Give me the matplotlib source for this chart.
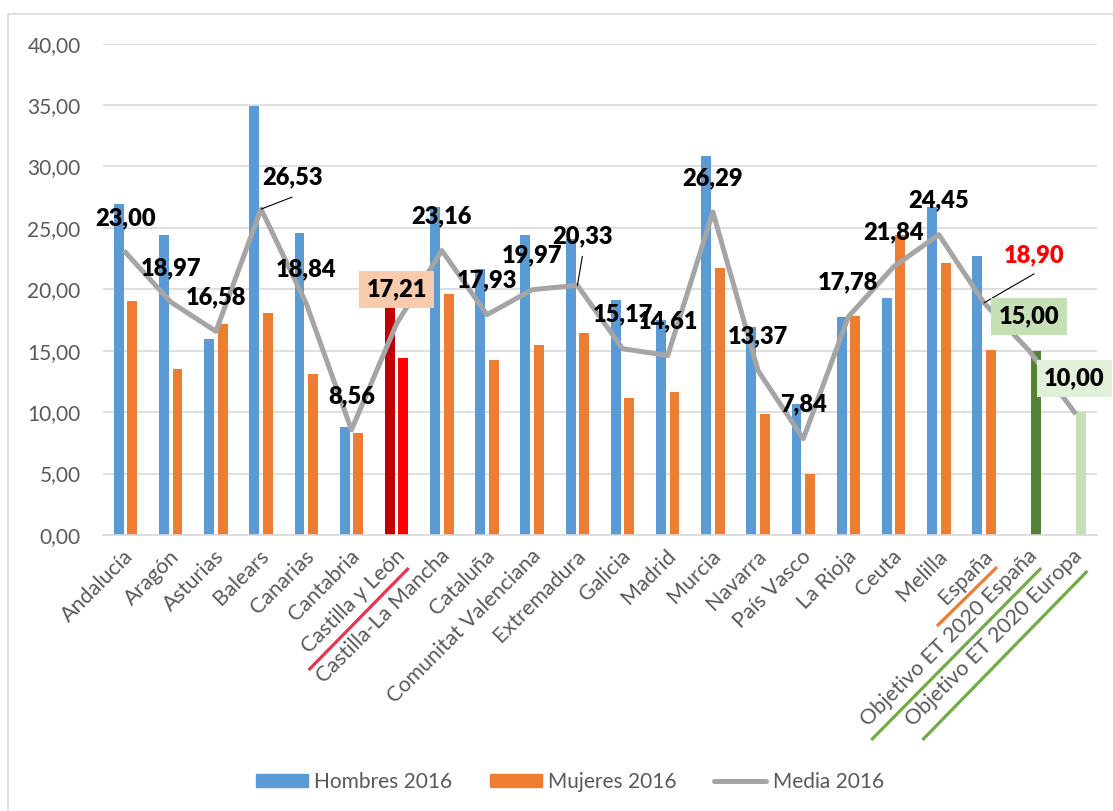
"""Abandono temprano de la educación 2016 por comunidad autónoma."""

import numpy as np
import matplotlib
matplotlib.use("Agg")
import matplotlib.pyplot as plt
from matplotlib.patches import Rectangle, Patch
from matplotlib.lines import Line2D
from matplotlib.transforms import ScaledTranslation

plt.rcParams["font.family"] = ["Lato", "DejaVu Sans"]

categorias = ["Andalucía", "Aragón", "Asturias", "Balears", "Canarias", "Cantabria",
              "Castilla y León", "Castilla-La Mancha", "Cataluña", "Comunitat Valenciana",
              "Extremadura", "Galicia", "Madrid", "Murcia", "Navarra", "País Vasco",
              "La Rioja", "Ceuta", "Melilla", "España", "Objetivo ET 2020 España",
              "Objetivo ET 2020 Europa"]
hombres = [26.94, 24.42, 15.95, 34.94, 24.55, 8.82, 20.00, 26.67, 21.65, 24.42, 24.10,
           19.10, 17.50, 30.85, 16.90, 10.66, 17.77, 19.29, 26.72, 22.71, np.nan, np.nan]
mujeres = [19.02, 13.49, 17.15, 18.10, 13.10, 8.27, 14.43, 19.62, 14.22, 15.49, 16.41,
           11.15, 11.64, 21.73, 9.82, 4.96, 17.82, 24.42, 22.11, 15.06, 15.00, 10.00]
media = [23.00, 18.97, 16.58, 26.53, 18.84, 8.56, 17.21, 23.16, 17.93, 19.97, 20.33,
         15.17, 14.61, 26.29, 13.37, 7.84, 17.78, 21.84, 24.45, 18.90, 15.00, 10.00]
yticks = [0, 5, 10, 15, 20, 25, 30, 35, 40]

AZUL = "#5B9BD5"
NARANJA = "#ED7D31"
GRIS = "#A5A5A5"
TEXTO = "#595959"
REJILLA = "#D9D9D9"

col_h = [AZUL] * len(categorias)
col_m = [NARANJA] * len(categorias)
col_h[6], col_m[6] = "#C00000", "#FF0000"
col_m[20], col_m[21] = "#548235", "#C5E0B4"

fig = plt.figure(figsize=(11.13, 8.11), dpi=100)
ax = fig.add_axes([0.0925, 0.3403, 0.8931, 0.6059])

x = np.arange(len(categorias))
ax.bar(x - 0.15, hombres, width=0.22, color=col_h, zorder=2)
ax.bar(x + 0.15, mujeres, width=0.22, color=col_m, zorder=2)
ax.plot(x, media, color=GRIS, lw=3.6, zorder=3)

ax.set_xlim(-0.5, len(categorias) - 0.5)
ax.set_ylim(0, 40)
ax.set_yticks(yticks)
ax.set_yticklabels([f"{v:.2f}".replace(".", ",") for v in yticks])
ax.grid(axis="y", color=REJILLA, lw=1.2, zorder=0)
ax.set_axisbelow(True)
for s in ["top", "right", "left"]:
    ax.spines[s].set_visible(False)
ax.spines["bottom"].set_color(REJILLA)
ax.spines["bottom"].set_linewidth(1.2)
ax.tick_params(axis="both", length=0, labelsize=15, labelcolor=TEXTO)
ax.tick_params(axis="y", pad=16)
ax.set_xticks(x)
ax.set_xticklabels(categorias, rotation=45, ha="right", va="top",
                   rotation_mode="anchor", fontsize=15.5)
ax.tick_params(axis="x", pad=8)
desplaza = ScaledTranslation(-0.02, 0, fig.dpi_scale_trans)
for lab in ax.get_xticklabels():
    lab.set_transform(lab.get_transform() + desplaza)

# etiquetas de la media: desplazamiento en píxeles (dx, dy)
desp = {3: (31, 32), 10: (5, 49), 19: (50, 48)}
guias = {3: (31, 12), 10: (5, 29), 19: (50, 29)}
cajas = {6: "#F8CBAD", 20: "#C5E0B4", 21: "#E2F0D9"}
for i, v in enumerate(media):
    dx, dy = desp.get(i, (0, 34))
    color = "#FF0000" if i == 19 else "black"
    bbox = None
    if i in cajas:
        bbox = dict(boxstyle="square,pad=0.32", fc=cajas[i], ec="none")
    ax.annotate(f"{v:.2f}".replace(".", ","), (i, v), xytext=(dx, dy),
                textcoords="offset pixels", ha="center", va="center",
                fontsize=17, fontweight="heavy", color=color, bbox=bbox, zorder=5)
    if i in guias:
        ax.annotate("", (i, v), xytext=guias[i], textcoords="offset pixels",
                    arrowprops=dict(arrowstyle="-", color="black", lw=0.8,
                                    shrinkA=0, shrinkB=0), zorder=5)

# subrayados de etiquetas del eje (píxeles respecto a la categoría)
subrayados = [(6, "#E8344E", (-88, -135), (12, -33)),
              (19, "#ED7D31", (-47, -91), (13, -32)),
              (20, "#70AD47", (-158, -205), (12, -33)),
              (21, "#70AD47", (-152, -205), (13, -36))]
for i, c, p0, p1 in subrayados:
    t0 = ax.transData + ScaledTranslation(p0[0] / 100, p0[1] / 100, fig.dpi_scale_trans)
    t1 = ax.transData + ScaledTranslation(p1[0] / 100, p1[1] / 100, fig.dpi_scale_trans)
    a = t0.transform((i, 0))
    b = t1.transform((i, 0))
    fig.add_artist(Line2D([a[0], b[0]], [a[1], b[1]], transform=None,
                          color=c, lw=2.3, solid_capstyle="butt"))

handles = [Patch(color=AZUL), Patch(color=NARANJA),
           Line2D([], [], color=GRIS, lw=3.6, solid_capstyle="round")]
fig.legend(handles, ["Hombres 2016", "Mujeres 2016", "Media 2016"], ncol=3,
           loc="center", bbox_to_anchor=(0.512, 0.036), frameon=False,
           fontsize=15, labelcolor=TEXTO, handlelength=2.5, handleheight=0.62,
           handletextpad=0.3, columnspacing=1.8)

fig.add_artist(Rectangle((8 / 1113, -0.05), 1.1, 1.05 - 14 / 811,
                         transform=fig.transFigure, fill=False, ec=REJILLA, lw=1.2))

fig.savefig("out.png", dpi=100)
plt.close(fig)
